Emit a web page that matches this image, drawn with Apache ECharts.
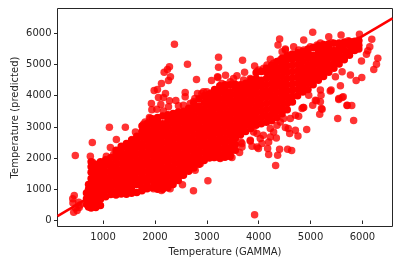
<!DOCTYPE html>
<html>
<head>
<meta charset="utf-8">
<style>html,body{margin:0;padding:0;background:#fff}#chart{width:413px;height:268px}</style>
<script src="https://cdn.jsdelivr.net/npm/echarts@6/dist/echarts.min.js"></script>
</head>
<body>
<div id="chart"></div>
<script>
var xTicks = [1000, 2000, 3000, 4000, 5000, 6000];
var yTicks = [0, 1000, 2000, 3000, 4000, 5000, 6000];
var fitX = [122, 6579];
var fitY = [138, 6482];
// the dense band, read column by column
var bandX = [680,720,770,860,950,1050,1150,1250,1350,1450,1550,1650,1750,1850,1950,2050,2150,2250,2350,2450,2550,2650,2750,2850,2950,3050,3150,3250,3350,3450,3550,3650,3750,3850,3950,4050,4150,4250,4350,4450,4550,4650,4750,4850,4950,5050,5150,5250,5350,5450,5550,5650,5750,5850,5930];
var bandY = [
[520,700,880],
[430,620,800,1000,1150],
[400,560,760,950,1150,1350,1550,1720,1880],
[420,620,820,1020,1220,1420,1620,1800],
[480,680,880,1080,1280,1480,1680,1880],
[760,960,1160,1360,1560,1760,1950],
[830,1020,1220,1420,1620,1820,2020],
[820,920,1120,1320,1520,1720,1920,2120,2250],
[850,1030,1230,1430,1630,1830,2030,2230,2380],
[840,940,1140,1340,1540,1740,1940,2140,2340,2470],
[870,1050,1250,1450,1650,1850,2050,2250,2450,2580],
[900,1150,1350,1550,1750,1950,2150,2350,2550,2700],
[950,1060,1260,1460,1660,1860,2060,2260,2460,2660,2850,3030],
[1020,1170,1370,1570,1770,1970,2170,2370,2570,2770,2970,3110],
[1060,1280,1480,1680,1880,2080,2280,2480,2680,2880,3080,3260],
[1000,1190,1390,1590,1790,1990,2190,2390,2590,2790,2990,3190,3300],
[1000,1100,1300,1500,1700,1900,2100,2300,2500,2700,2900,3100,3350],
[1050,1210,1410,1610,1810,2010,2210,2410,2610,2810,3010,3210,3390],
[1150,1320,1520,1720,1920,2120,2320,2520,2720,2920,3120,3320,3430],
[1280,1430,1630,1830,2030,2230,2430,2630,2830,3030,3230,3420,3480],
[1450,1540,1740,1940,2140,2340,2540,2740,2940,3140,3340,3500],
[1580,1650,1850,2050,2250,2450,2650,2850,3050,3250,3450,3600],
[1680,1760,1960,2160,2360,2560,2760,2960,3160,3360,3560,3750],
[1800,1870,2070,2270,2470,2670,2870,3070,3270,3470,3670,3900],
[1920,1980,2180,2380,2580,2780,2980,3180,3380,3580,3780,4000],
[2000,2090,2290,2490,2690,2890,3090,3290,3490,3690,3890,4060],
[2020,2200,2400,2600,2800,3000,3200,3400,3600,3800,4000,4200],
[2000,2110,2310,2510,2710,2910,3110,3310,3510,3710,3910,4110,4320],
[2030,2220,2420,2620,2820,3020,3220,3420,3620,3820,4020,4220,4350],
[2050,2130,2330,2530,2730,2930,3130,3330,3530,3730,3930,4130,4350],
[2250,2440,2640,2840,3040,3240,3440,3640,3840,4040,4240,4370],
[2750,2950,3150,3350,3550,3750,3950,4150,4350],
[2850,3050,3250,3450,3650,3850,4050,4250,4400],
[2950,3150,3350,3550,3750,3950,4150,4350,4520],
[3050,3250,3450,3650,3850,4050,4250,4450,4550,4740],
[3100,3300,3500,3700,3900,4100,4300,4500,4780],
[3150,3350,3550,3750,3950,4150,4350,4550,4750,4880],
[3200,3400,3600,3800,4000,4200,4400,4600,4800,4980],
[3300,3500,3700,3900,4100,4300,4500,4700,4900,5100],
[3420,3620,3820,4020,4220,4420,4620,4820,5020,5200],
[3550,3750,3950,4150,4350,4550,4750,4950,5150,5280],
[3800,3980,4180,4380,4580,4780,4980,5180,5340],
[4000,4200,4400,4600,4800,5000,5200,5380],
[4120,4300,4500,4700,4900,5100,5300,5420],
[4200,4400,4600,4800,5000,5200,5400,5500],
[4350,4500,4700,4900,5100,5300,5550],
[4500,4600,4800,5000,5200,5400,5600],
[4620,4700,4900,5100,5300,5500,5640],
[4750,4800,5000,5200,5400,5600,5670],
[4880,5050,5250,5450,5680],
[5020,5150,5350,5550,5690],
[5150,5250,5450,5650,5720],
[5300,5400,5600,5740],
[5450,5550,5750],
[5500,5620,5760]
];
// single dots around the band
var looseX = [445,415,420,434,470,500,531,555,540,465,755,793,793,1122,1430,1624,1778,1894,1940,2037,1932,2114,2164,1985,2048,2068,2164,2203,2126,2261,2299,2178,2241,2280,2376,2627,2801,3091,2583,2583,2280,2403,2454,2770,2680,2820,2936,3226,3226,3207,3361,3214,3515,3581,3838,3689,3728,3921,3998,4160,4224,4417,4372,4403,4514,4674,4867,5041,5350,5588,5942,6180,6141,6103,6077,6296,6270,6218,5981,5987,5878,5768,5575,5395,5479,5608,5189,5202,5112,5041,5544,5629,5705,5794,5209,4855,5523,5830,5176,5222,5379,5608,5543,5704,4964,5093,5189,4867,4770,4707,4836,4481,4610,4417,4353,4224,4288,3902,3967,4030,4090,4224,4064,4192,3838,3678,3678,3658,3871,3838,3967,3995,4172,4192,4365,4326,4403,4558,4635,4340,4925,4757,4707,4597,4514,4570,3921,3021,2743,2531,2293,2126,1971,2519,2776,2647,3129,3259,3484,3631,1064,1206,1257,1141,1560,2873,2293,2050,3292,3452,3709,3967,4095,4288,4451,4514,4610,4770,4867,4996,5125,5189,5412,5726,5830,5923,2261,2550,2743,2905,3000,3129,1811,1907];
var looseY = [804,700,560,267,400,320,588,500,420,2080,2058,2498,1875,2990,2990,2840,3087,3302,3547,3569,3752,3720,3514,4170,4202,3945,3945,4073,4395,4492,4608,4749,4845,4930,5650,5006,4524,4492,4106,3965,3836,3849,3675,3913,3752,4073,4125,5231,4910,4608,4653,4588,4556,4640,4556,5135,4749,4952,4823,4984,5167,5145,5627,5820,5498,5573,5788,6035,5893,5949,5971,5810,5573,5444,5328,5199,5006,4845,5113,4588,4492,4662,4318,4180,4608,4768,4180,4019,3836,3698,3913,3965,3688,3688,3592,3624,3270,3206,3408,3569,4148,3945,3881,3698,4019,3858,3804,3624,3344,3376,3592,3270,3270,3161,3055,2948,2840,2840,2787,2627,2733,2678,2466,2518,2572,2466,2357,2518,2379,2550,2357,2305,2305,2113,2090,1759,2283,2283,2241,2646,2916,2710,2894,2787,2981,2950,183,1277,955,1148,1019,965,1019,1447,1608,1630,2016,1984,2016,2177,2058,2122,2595,2338,2595,1823,1150,1050,4395,4447,4502,4768,4878,5039,5412,5466,5305,5466,5466,5573,5627,5690,5700,5760,5730,5780,3643,3698,3804,4073,4125,4125,3161,3270];

var bandData = [];
bandX.forEach(function (x, i) {
    bandY[i].forEach(function (y) { bandData.push([x, y]); });
});
var looseData = looseX.map(function (x, i) { return [x, looseY[i]]; });
function plainLabel(v) { return String(v); }

var textColor = '#262626';
var option = {
    animation: false,
    grid: { left: 57.5, right: 20.5, top: 8.5, bottom: 41.5, outerBoundsMode: 'none', show: true, borderColor: textColor, borderWidth: 1, backgroundColor: '#fff' },
    xAxis: {
        type: 'value', min: 122, max: 6579,
        name: 'Temperature (GAMMA)', nameLocation: 'middle', nameGap: 21, nameMoveOverlap: false,
        nameTextStyle: { fontFamily: 'DejaVu Sans', fontSize: 10, color: textColor },
        splitLine: { show: false },
        axisLine: { show: false },
        axisTick: { show: true, length: 3.5, customValues: xTicks, lineStyle: { color: textColor } },
        axisLabel: { customValues: xTicks, formatter: plainLabel, margin: 6, fontFamily: 'DejaVu Sans', fontSize: 10, color: textColor }
    },
    yAxis: {
        type: 'value', min: -193, max: 6797,
        name: 'Temperature (predicted)', nameLocation: 'middle', nameGap: 37, nameMoveOverlap: false,
        nameTextStyle: { fontFamily: 'DejaVu Sans', fontSize: 10, color: textColor },
        splitLine: { show: false },
        axisLine: { show: false },
        axisTick: { show: true, length: 3.5, customValues: yTicks, lineStyle: { color: textColor } },
        axisLabel: { customValues: yTicks, formatter: plainLabel, margin: 6, fontFamily: 'DejaVu Sans', fontSize: 10, color: textColor }
    },
    series: [
        { type: 'scatter', data: looseData, symbolSize: 7.5, itemStyle: { color: '#ff0000', opacity: 0.8 }, z: 2 },
        { type: 'scatter', data: bandData, symbolSize: 7.5, itemStyle: { color: '#ff0000', opacity: 1 }, z: 3 },
        {
            type: 'line', data: [[fitX[0], fitY[0]], [fitX[1], fitY[1]]], symbol: 'none',
            lineStyle: { color: '#ff0000', width: 2.5 }, z: 4
        }
    ]
};
var chart = echarts.init(document.getElementById('chart'), null, { renderer: 'canvas' });
chart.setOption(option);
</script>
</body>
</html>
